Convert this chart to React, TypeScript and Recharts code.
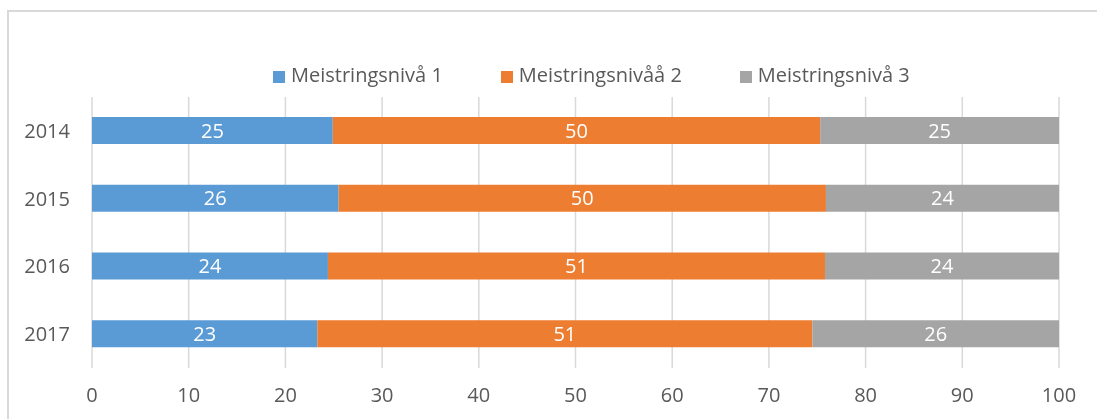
import React from 'react';
import { BarChart, Bar, XAxis, YAxis, CartesianGrid, LabelList, Legend } from 'recharts';

const years = ['2014', '2015', '2016', '2017'];
const level1 = [24.9, 25.5, 24.4, 23.3];
const level2 = [50.4, 50.4, 51.4, 51.2];
const level3 = [24.7, 24.1, 24.2, 25.5];
const xTicks = [0, 10, 20, 30, 40, 50, 60, 70, 80, 90, 100];

const seriesNames = ['Meistringsnivå 1', 'Meistringsnivåå 2', 'Meistringsnivå 3'];
const seriesColors = ['#5B9BD5', '#ED7D31', '#A5A5A5'];

const data = years.map((y, i) => ({ year: y, a: level1[i], b: level2[i], c: level3[i] }));

const FONT = '"Open Sans", sans-serif';

const renderLegend = () => (
  <div style={{ display: 'flex', fontFamily: FONT, fontSize: 20, lineHeight: '20px', color: '#595959', whiteSpace: 'nowrap' }}>
    {seriesNames.map((n, i) => (
      <div key={n} style={{ display: 'flex', alignItems: 'flex-start', marginRight: i < 2 ? 58 : 0 }}>
        <div style={{ width: 12, height: 12, background: seriesColors[i], marginTop: 6, marginRight: 6 }} />
        <span>{n}</span>
      </div>
    ))}
  </div>
);

const fmt = (v: any) => Math.round(Number(v));

export default function App() {
  return (
    <div>
      <div style={{ position: 'fixed', left: 7, top: 10, right: -20, bottom: -20, borderLeft: '2px solid #d9d9d9', borderTop: '2px solid #d9d9d9' }} />
      <div style={{ position: 'fixed', left: 0, top: 0, width: 1097, height: 419 }}>
        <BarChart
          width={1097}
          height={419}
          data={data}
          layout="vertical"
          margin={{ top: 97, right: 38, bottom: 21, left: 32 }}
          style={{ fontFamily: FONT }}
        >
          <CartesianGrid horizontal={false} stroke="#d9d9d9" strokeWidth={1.5} />
          <XAxis
            type="number"
            domain={[0, 100]}
            ticks={xTicks}
            axisLine={false}
            tickLine={false}
            tickSize={0}
            tickMargin={20}
            height={30}
            interval={0}
            tick={{ fill: '#595959', fontSize: 20, fontFamily: FONT }}
          />
          <YAxis
            type="category"
            dataKey="year"
            axisLine={false}
            tickLine={false}
            tickSize={0}
            tickMargin={22}
            width={60}
            tick={{ fill: '#595959', fontSize: 20, fontFamily: FONT }}
          />
          <Legend
            layout="horizontal"
            verticalAlign="middle"
            align="center"
            content={renderLegend}
            wrapperStyle={{ top: 65, left: 273, width: 'auto', height: 20 }}
          />
          <Bar dataKey="a" stackId="s" fill={seriesColors[0]} barSize={27} isAnimationActive={false} name={seriesNames[0]}>
            <LabelList dataKey="a" position="center" fill="#ffffff" fontSize={20} fontFamily={FONT} formatter={fmt} />
          </Bar>
          <Bar dataKey="b" stackId="s" fill={seriesColors[1]} barSize={27} isAnimationActive={false} name={seriesNames[1]}>
            <LabelList dataKey="b" position="center" fill="#ffffff" fontSize={20} fontFamily={FONT} formatter={fmt} />
          </Bar>
          <Bar dataKey="c" stackId="s" fill={seriesColors[2]} barSize={27} isAnimationActive={false} name={seriesNames[2]}>
            <LabelList dataKey="c" position="center" fill="#ffffff" fontSize={20} fontFamily={FONT} formatter={fmt} />
          </Bar>
        </BarChart>
      </div>
    </div>
  );
}
